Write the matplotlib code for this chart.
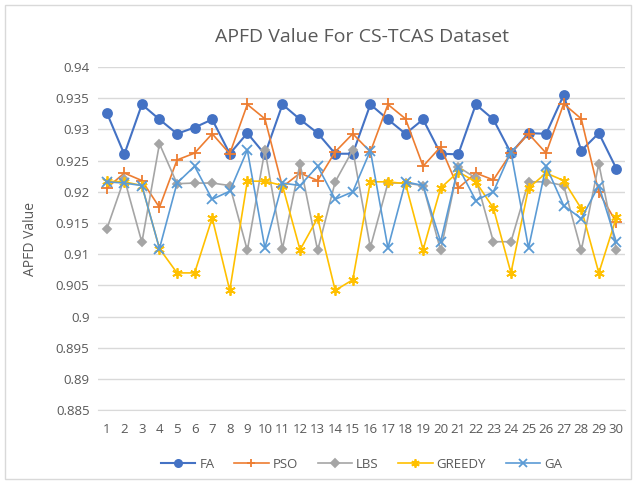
import matplotlib
matplotlib.use("Agg")
import matplotlib.pyplot as plt
from matplotlib.patches import Rectangle

runs = list(range(1, 31))

fa = [0.9327, 0.9260, 0.9340, 0.9316, 0.9293, 0.9303, 0.9316, 0.9261, 0.9294, 0.9260,
      0.9340, 0.9316, 0.9294, 0.9261, 0.9261, 0.9340, 0.9316, 0.9293, 0.9316, 0.9261,
      0.9260, 0.9340, 0.9316, 0.9262, 0.9294, 0.9293, 0.9355, 0.9266, 0.9294, 0.9237]
pso = [0.9206, 0.9230, 0.9218, 0.9175, 0.9251, 0.9262, 0.9293, 0.9261, 0.9340, 0.9317,
       0.9208, 0.9230, 0.9218, 0.9264, 0.9293, 0.9264, 0.9340, 0.9317, 0.9241, 0.9272,
       0.9206, 0.9230, 0.9219, 0.9262, 0.9293, 0.9262, 0.9341, 0.9317, 0.9199, 0.9151]
lbs = [0.9140, 0.9221, 0.9119, 0.9277, 0.9213, 0.9214, 0.9214, 0.9210, 0.9106, 0.9267,
       0.9109, 0.9245, 0.9106, 0.9216, 0.9267, 0.9111, 0.9214, 0.9214, 0.9210, 0.9106,
       0.9240, 0.9222, 0.9120, 0.9120, 0.9216, 0.9216, 0.9210, 0.9106, 0.9245, 0.9106]
greedy = [0.9217, 0.9216, 0.9210, 0.9109, 0.9070, 0.9070, 0.9158, 0.9042, 0.9217, 0.9217,
          0.9210, 0.9107, 0.9158, 0.9042, 0.9059, 0.9216, 0.9216, 0.9213, 0.9107, 0.9206,
          0.9232, 0.9216, 0.9174, 0.9070, 0.9206, 0.9230, 0.9218, 0.9173, 0.9070, 0.9159]
ga = [0.9216, 0.9214, 0.9210, 0.9109, 0.9214, 0.9241, 0.9188, 0.9201, 0.9267, 0.9110,
      0.9214, 0.9210, 0.9241, 0.9188, 0.9200, 0.9266, 0.9110, 0.9216, 0.9210, 0.9120,
      0.9240, 0.9186, 0.9200, 0.9264, 0.9110, 0.9241, 0.9178, 0.9157, 0.9210, 0.9119]

series = [
    ("FA", fa, "#4472C4", "o", 6.5, 1.5),
    ("PSO", pso, "#ED7D31", "+", 8, 1.2),
    ("LBS", lbs, "#A5A5A5", "D", 4.5, 1.2),
    ("GREEDY", greedy, "#FFC000", (6, 2, 0), 7.5, 1.2),
    ("GA", ga, "#5B9BD5", "x", 6.5, 1.2),
]

plt.rcParams['font.family'] = ['Open Sans', 'DejaVu Sans']

fig = plt.figure(figsize=(6.36, 4.82), dpi=100)
ax = fig.add_axes([0.154, 0.149, 0.829, 0.712])

for name, vals, col, mk, ms, lw in series:
    ax.plot(runs, vals, color=col, lw=lw, marker=mk, markersize=ms,
            markeredgecolor=col, markerfacecolor=col, markeredgewidth=1.3,
            label=name)

ax.set_ylim(0.885, 0.94)
ax.set_xlim(0.5, 30.5)
ax.set_yticks([0.885 + 0.005 * i for i in range(12)])
ax.set_yticklabels(["0.885", "0.89", "0.895", "0.9", "0.905", "0.91", "0.915",
                    "0.92", "0.925", "0.93", "0.935", "0.94"])
ax.set_xticks(runs)
ax.set_xticklabels([str(r) for r in runs])
ax.grid(axis="y", color="#D9D9D9", lw=1)
ax.set_axisbelow(True)
for s in ["top", "right", "left"]:
    ax.spines[s].set_visible(False)
ax.spines["bottom"].set_color("#D9D9D9")
ax.tick_params(axis="x", length=0, labelsize=9.5, colors="#595959", pad=9)
ax.tick_params(axis="y", length=0, labelsize=9.5, colors="#595959", pad=6)
ax.set_ylabel("APFD Value", fontsize=10, color="#595959", labelpad=13)
ax.set_title("APFD Value For CS-TCAS Dataset", fontsize=14, color="#595959", pad=18)

ax.legend(loc="upper center", bbox_to_anchor=(0.5, -0.105), ncol=5, frameon=False,
          fontsize=9.5, labelcolor="#595959", handlelength=2.6, columnspacing=1.5,
          handletextpad=0.3, markerscale=0.8)

fig.patches.append(Rectangle((0.008, 0.006), 0.984, 0.984, transform=fig.transFigure,
                             fill=False, edgecolor="#D9D9D9", lw=1))

fig.savefig("out.png", dpi=100)
